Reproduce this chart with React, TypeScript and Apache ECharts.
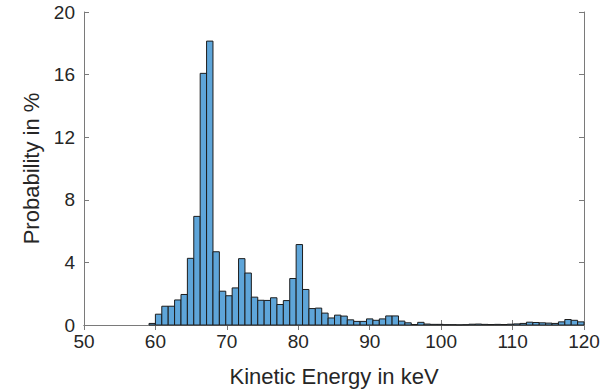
import React, { useEffect, useRef } from "react";
import * as echarts from "echarts";

// Histogram bins (keV): first bin edge and bin width
const binStart = 59.1;
const binWidth = 0.8956;
// Probability in % for each bin
const probability = [
  0.1, 0.69, 1.2, 1.2, 1.6, 1.95, 4.26, 6.94, 16.08, 18.14,
  4.68, 2.16, 1.87, 2.37, 4.24, 3.32, 1.78, 1.58, 1.57, 1.74,
  1.31, 1.56, 2.97, 5.14, 2.27, 1.05, 1.08, 0.76, 0.45, 0.63,
  0.57, 0.33, 0.23, 0.23, 0.39, 0.3, 0.39, 0.58, 0.58, 0.25,
  0.14, 0.03, 0.17, 0.06, 0.04, 0.04, 0.02, 0.02, 0.01, 0.02,
  0.05, 0.06, 0.04, 0.03, 0.04, 0.03, 0.05, 0.07, 0.1, 0.18,
  0.16, 0.14, 0.12, 0.1, 0.2, 0.35, 0.3, 0.2,
];
const xTicks = { min: 50, max: 120, interval: 10 };
const yTicks = { min: 0, max: 20, interval: 4 };

const FONT = '"Liberation Sans", Arial, Helvetica, sans-serif';
const AXIS_COLOR = "#7a7a7a";
const TEXT_COLOR = "#262626";

export default function App() {
  const ref = useRef<HTMLDivElement>(null);
  useEffect(() => {
    if (!ref.current) return;
    const chart = echarts.init(ref.current, undefined, { renderer: "svg" });
    const data = probability.map((p, i) => [
      binStart + i * binWidth,
      binStart + (i + 1) * binWidth,
      p,
    ]);
    const axisCommon = {
      axisLine: { show: true, lineStyle: { color: AXIS_COLOR, width: 1 } },
      axisTick: { show: true, inside: true, length: 5, lineStyle: { color: AXIS_COLOR } },
      splitLine: { show: false },
    };
    chart.setOption({
      animation: false,
      grid: { left: 84, right: 31, top: 12, bottom: 62, containLabel: false },
      xAxis: [
        {
          type: "value",
          ...xTicks,
          position: "bottom",
          ...axisCommon,
          axisLabel: { color: TEXT_COLOR, fontSize: 19, fontFamily: FONT, margin: 7 },
          name: "Kinetic Energy in keV",
          nameLocation: "middle",
          nameGap: 40,
          nameTextStyle: { color: TEXT_COLOR, fontSize: 22, fontFamily: FONT },
        },
        {
          type: "value",
          ...xTicks,
          position: "top",
          ...axisCommon,
          axisLabel: { show: false },
        },
      ],
      yAxis: [
        {
          type: "value",
          ...yTicks,
          position: "left",
          ...axisCommon,
          axisLabel: { color: TEXT_COLOR, fontSize: 19, fontFamily: FONT, margin: 9 },
          name: "Probability in %",
          nameLocation: "middle",
          nameGap: 38,
          nameTextStyle: { color: TEXT_COLOR, fontSize: 22, fontFamily: FONT },
        },
        {
          type: "value",
          ...yTicks,
          position: "right",
          ...axisCommon,
          axisLabel: { show: false },
        },
      ],
      series: [
        {
          type: "custom",
          xAxisIndex: 0,
          yAxisIndex: 0,
          data,
          encode: { x: [0, 1], y: 2 },
          renderItem: (params: any, api: any) => {
            const p0 = api.coord([api.value(0), api.value(2)]);
            const p1 = api.coord([api.value(1), 0]);
            return {
              type: "rect",
              shape: { x: p0[0], y: p0[1], width: p1[0] - p0[0], height: p1[1] - p0[1] },
              style: { fill: "#5ea5d9", stroke: "#1c1c1c", lineWidth: 1 },
            };
          },
        },
      ],
    });
    return () => chart.dispose();
  }, []);
  return (
    <div
      ref={ref}
      style={{ position: "absolute", left: 0, top: 0, width: 615, height: 392, background: "#fff" }}
    />
  );
}
